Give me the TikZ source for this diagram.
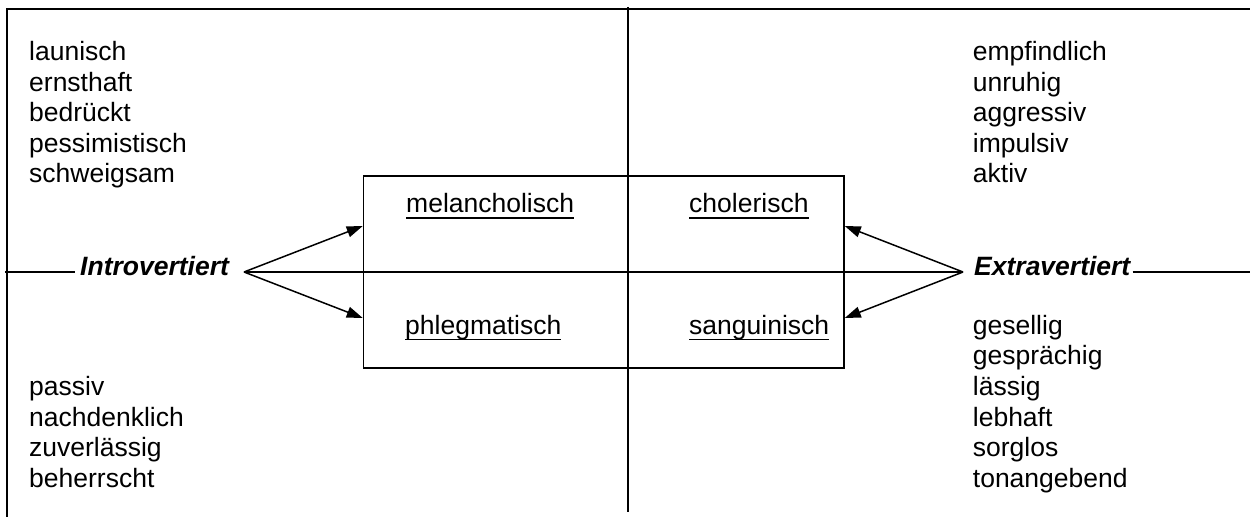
\documentclass[tikz,border=0pt]{standalone}
\usepackage{fontspec}
\setmainfont{Liberation Sans}
\usetikzlibrary{arrows.meta}
% underline set at a fixed depth below the baseline, over the full word width
\newcommand\ulword[1]{\setbox0\hbox{#1}\rlap{\rule[-5.8pt]{\wd0}{1.6pt}}\box0}
\begin{document}
\begin{tikzpicture}[x=1pt,y=1pt,
  word/.style={inner sep=0pt, anchor=base west, font=\fontsize{26.5}{30.5}\selectfont},
  axislab/.style={word, font=\fontsize{26.5}{30.5}\selectfont\bfseries\itshape},
  frame/.style={line width=2pt},
  thinline/.style={line width=1.5pt},
  arr/.style={line width=1.5pt, -{Triangle[length=16pt,width=11pt]}}]
\useasboundingbox (0,0) rectangle (1250,517);

% outer frame: top edge and left edge
\coordinate (ftr) at (1250,508);
\coordinate (ftl) at (7,508);
\coordinate (fbl) at (7,0);
\draw[frame] (ftr) -- (ftl) -- (fbl);

% vertical axis
\coordinate (vtop) at (628,510);
\coordinate (vbot) at (628,5);
\draw[thinline] (vtop) -- (vbot);

% central box of the four temperaments
\node[draw, thinline, minimum width=480.5pt, minimum height=192pt, inner sep=0pt]
  (quad) at (603.75,245) {};

\node[word] (mel) at (406,304) {\ulword{melancholisch}};
\node[word] (cho) at (689,304) {\ulword{cholerisch}};
\node[word] (phl) at (405,182.5) {\ulword{phlegmatisch}};
\node[word] (san) at (689,182.5) {\ulword{sanguinisch}};

% horizontal axis with its two labels
\node[axislab] (intro) at (80,241) {Introvertiert};
\node[axislab] (extra) at (974,241) {Extravertiert};
\coordinate (lend) at (5,245);
\coordinate (rend) at (1250,245);
\coordinate (iapex) at (244,245);
\coordinate (eapex) at (963,245);
\draw[thinline] (lend) -- ([xshift=-5pt]lend -| intro.west);
\draw[thinline] ([xshift=2pt]rend -| extra.east) -- (rend);
\draw[thinline] (iapex) -- (eapex);

% arrows into the box
\draw[arr] (iapex) -- ([yshift=46pt]quad.west);
\draw[arr] (iapex) -- ([yshift=-46pt]quad.west);
\draw[arr] (eapex) -- ([yshift=46pt]quad.east);
\draw[arr] (eapex) -- ([yshift=-46pt]quad.east);

% trait lists in the four quadrants
\foreach \w [count=\i from 0] in {launisch,ernsthaft,bedrückt,pessimistisch,schweigsam}
  \node[word] (tl-\i) at (29,456-30.5*\i) {\w};
\foreach \w [count=\i from 0] in {empfindlich,unruhig,aggressiv,impulsiv,aktiv}
  \node[word] (tr-\i) at (972.7,456-30.5*\i) {\w};
\foreach \w [count=\i from 0] in {passiv,nachdenklich,zuverlässig,beherrscht}
  \node[word] (bl-\i) at (29,121.5-30.5*\i) {\w};
\foreach \w [count=\i from 0] in {gesellig,gesprächig,lässig,lebhaft,sorglos,tonangebend}
  \node[word] (br-\i) at (972.7,182.5-30.5*\i) {\w};
\end{tikzpicture}
\end{document}
